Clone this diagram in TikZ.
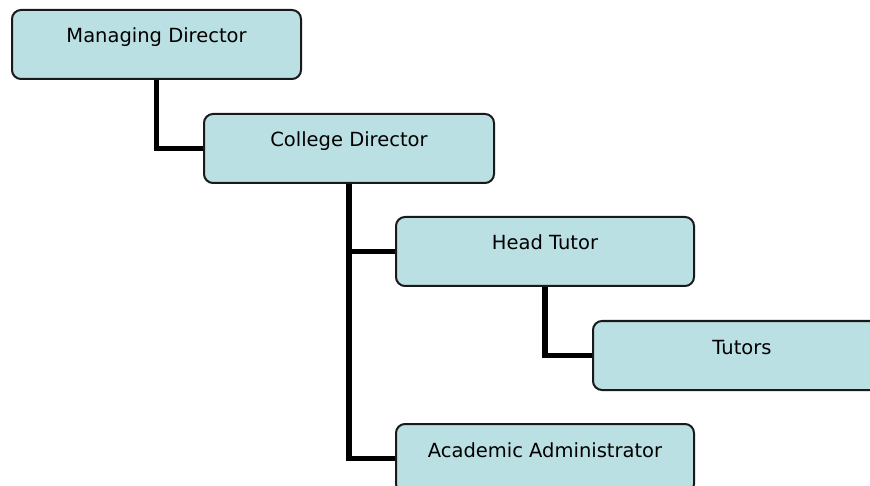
\documentclass[tikz,border=0pt]{standalone}
\usepackage{fontspec}
\setmainfont{DejaVu Sans}
\definecolor{postfill}{RGB}{187,224,227}
\definecolor{postline}{RGB}{25,25,25}
\tikzset{
  post/.style={draw=postline, line width=2pt, fill=postfill, rounded corners=9pt,
    anchor=north west, inner xsep=0pt, inner ysep=0pt, minimum height=69pt,
    text height=33pt, text depth=36pt, font=\fontsize{19.5}{22}\selectfont},
  link/.style={draw=black, line width=5.5pt}
}
\begin{document}
\begin{tikzpicture}[x=1pt,y=-1pt]
      \useasboundingbox (0,0) rectangle (870,486);
      \clip (0,0) rectangle (870,486);
      \path
        (11,9) node[post, minimum width=289pt] (md){Managing Director}
        (203,113) node[post, minimum width=290pt] (cd){College Director}
        (395,216) node[post, minimum width=298pt] (ht){Head Tutor}
        (592,320) node[post, minimum width=298pt] (tu){Tutors}
        (395,423) node[post, minimum width=298pt] (aa){Academic Administrator};
      \begin{scope}[link]
        \draw (md.south) |- (cd.west);
        \draw (cd.south) |- (ht.west);
        \draw (cd.south) |- (aa.west);
        \draw (ht.south) |- (tu.west);
      \end{scope}
    \end{tikzpicture}
\end{document}
